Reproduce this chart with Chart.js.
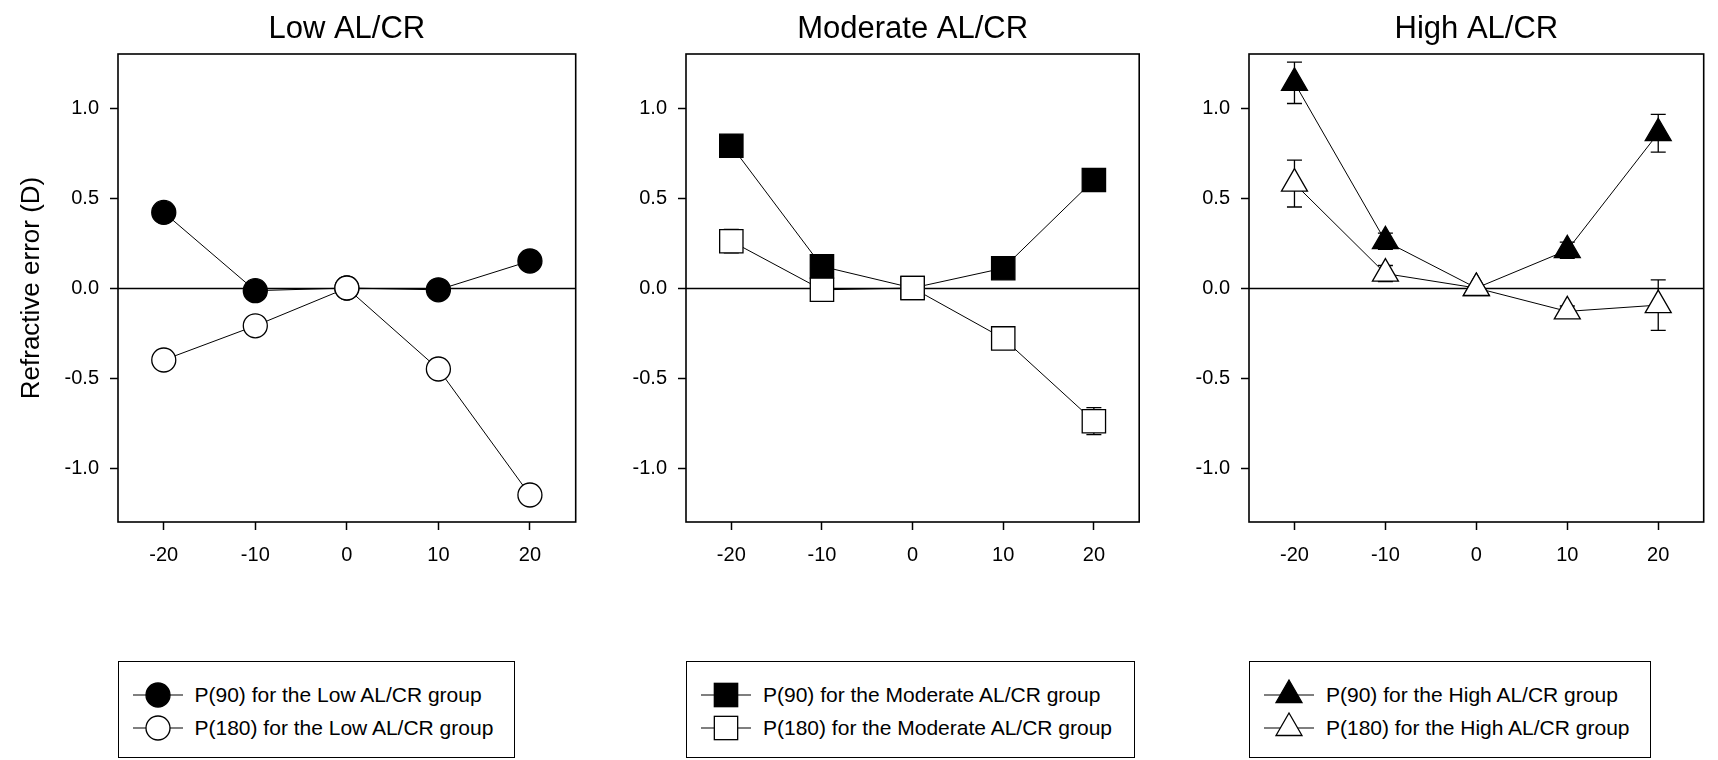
<!DOCTYPE html>
<html><head><meta charset="utf-8">
<script src="https://cdn.jsdelivr.net/npm/chart.js@4.4.1/dist/chart.umd.min.js"></script>
<style>
html,body{margin:0;padding:0;background:#fff;overflow:hidden;width:1718px;height:760px;}
.panel{position:absolute;top:0;}
.legend{position:absolute;top:661px;height:97px;border:1.5px solid #000;box-sizing:border-box;font-family:Arial,"Liberation Sans",sans-serif;font-size:21px;color:#000;background:#fff;}
.row{position:absolute;left:0;height:26px;line-height:26px;white-space:nowrap;}
.row svg{position:absolute;left:14px;top:-4px;overflow:visible;}
.row span{position:absolute;left:76px;top:0;}
</style></head><body>
<script>
// ---------- data ----------
const xValues = [-20, -10, 0, 10, 20];
const xTickValues = [-20, -10, 0, 10, 20];
const yTickValues = [-1.0, -0.5, 0.0, 0.5, 1.0];
const panelTitles = ['Low AL/CR', 'Moderate AL/CR', 'High AL/CR'];
const groupNames = ['Low', 'Moderate', 'High'];
const yAxisTitle = 'Refractive error (D)';

const lowP90     = [0.42, -0.015, 0.00, -0.01, 0.15];
const lowP90Err  = [0.03, 0.02, 0.00, 0.02, 0.03];
const lowP180    = [-0.40, -0.21, 0.00, -0.45, -1.15];
const lowP180Err = [0.03, 0.03, 0.00, 0.03, 0.04];

const modP90     = [0.79, 0.12, 0.00, 0.11, 0.60];
const modP90Err  = [0.06, 0.03, 0.00, 0.03, 0.04];
const modP180    = [0.26, -0.01, 0.00, -0.28, -0.74];
const modP180Err = [0.065, 0.03, 0.00, 0.03, 0.075];

const highP90     = [1.14, 0.26, 0.00, 0.21, 0.86];
const highP90Err  = [0.115, 0.045, 0.00, 0.045, 0.105];
const highP180    = [0.58, 0.08, 0.00, -0.13, -0.095];
const highP180Err = [0.13, 0.045, 0.00, 0.03, 0.14];

// ---------- layout / style ----------
const FONT = 'Arial, "Liberation Sans", sans-serif';
Chart.defaults.font.family = FONT;
Chart.defaults.color = '#000';
const frameLefts = [118, 686, 1249];
const frameWidth = 469;
const yAxisWidth = 118;
const frameTop = 54;
const canvasH = 600;
const xAxisH = 78;
const titleY = 29;
const legendLefts = [117.5, 686, 1249];
const legendWidths = [397, 449, 402];
const legendRowTops = [19.5, 52.5];
const markerStyles = ['circle', 'rect', 'triangle'];
const markerRadii = [12, 16.5, 15];

const panelData = [
  {p90: lowP90, p90e: lowP90Err, p180: lowP180, p180e: lowP180Err},
  {p90: modP90, p90e: modP90Err, p180: modP180, p180e: modP180Err},
  {p90: highP90, p90e: highP90Err, p180: highP180, p180e: highP180Err}
];

const extrasPlugin = {
  id: 'extras',
  beforeDatasetsDraw(chart) {
    const {ctx, chartArea: a, scales: {x, y}} = chart;
    ctx.save();
    ctx.strokeStyle = '#000';
    ctx.lineWidth = 1.5;
    const y0 = Math.round(y.getPixelForValue(0)) + 0.5;
    ctx.beginPath(); ctx.moveTo(a.left, y0); ctx.lineTo(a.right, y0); ctx.stroke();
    ctx.lineWidth = 1.3;
    chart.data.datasets.forEach((ds) => {
      if (!ds.errors) return;
      ds.data.forEach((pt, i) => {
        const e = ds.errors[i];
        if (!e) return;
        const px = x.getPixelForValue(pt.x);
        const yt = y.getPixelForValue(pt.y + e);
        const yb = y.getPixelForValue(pt.y - e);
        ctx.beginPath();
        ctx.moveTo(px, yt); ctx.lineTo(px, yb);
        ctx.moveTo(px - 7.5, yt); ctx.lineTo(px + 7.5, yt);
        ctx.moveTo(px - 7.5, yb); ctx.lineTo(px + 7.5, yb);
        ctx.stroke();
      });
    });
    ctx.restore();
  },
  afterDatasetsDraw(chart) {
    const {ctx, chartArea: a} = chart;
    ctx.save();
    ctx.strokeStyle = '#000';
    ctx.lineWidth = 1.6;
    ctx.strokeRect(a.left, a.top, a.right - a.left, a.bottom - a.top);
    const t = chart.options.plugins.panelTitle;
    ctx.fillStyle = '#000';
    ctx.font = '31px ' + FONT;
    ctx.textAlign = 'center';
    ctx.textBaseline = 'middle';
    ctx.fillText(t.text, (a.left + a.right) / 2, titleY);
    ctx.restore();
  }
};

function pts(vals) { return xValues.map((xv, i) => ({x: xv, y: vals[i]})); }

panelData.forEach((pd, p) => {
  const div = document.createElement('div');
  div.className = 'panel';
  div.style.left = (frameLefts[p] - yAxisWidth) + 'px';
  const cw = yAxisWidth + frameWidth + 2;
  div.style.width = cw + 'px';
  div.style.height = canvasH + 'px';
  const cv = document.createElement('canvas');
  cv.width = cw; cv.height = canvasH;
  cv.style.width = cw + 'px'; cv.style.height = canvasH + 'px';
  div.appendChild(cv);
  document.body.appendChild(div);

  const common = {
    pointStyle: markerStyles[p],
    pointRadius: markerRadii[p],
    pointHoverRadius: markerRadii[p],
    pointBorderColor: '#000',
    pointBorderWidth: 1.3,
    borderColor: '#000',
    borderWidth: 1,
    showLine: true,
    tension: 0,
    clip: false
  };

  new Chart(cv, {
    type: 'scatter',
    data: {
      datasets: [
        Object.assign({}, common, {label: 'P(180) for the ' + groupNames[p] + ' AL/CR group', data: pts(pd.p180), errors: pd.p180e, pointBackgroundColor: '#fff', order: 0}),
        Object.assign({}, common, {label: 'P(90) for the ' + groupNames[p] + ' AL/CR group', data: pts(pd.p90), errors: pd.p90e, pointBackgroundColor: '#000', order: 1})
      ]
    },
    options: {
      responsive: false,
      animation: false,
      devicePixelRatio: 1,
      layout: {padding: {left: 0, right: 2, top: frameTop, bottom: 0}},
      plugins: {
        legend: {display: false},
        tooltip: {enabled: false},
        title: {display: false},
        panelTitle: {text: panelTitles[p]}
      },
      scales: {
        x: {
          type: 'linear', min: -25, max: 25,
          afterBuildTicks: s => { s.ticks = xTickValues.map(v => ({value: v})); },
          afterFit: s => { s.height = xAxisH; },
          grid: {drawOnChartArea: false, drawTicks: true, tickLength: 8, tickWidth: 1.5, tickColor: '#000'},
          border: {display: false},
          ticks: {color: '#000', font: {size: 20}, padding: 13, maxRotation: 0, callback: v => String(v)}
        },
        y: {
          type: 'linear', min: -1.3, max: 1.3,
          afterBuildTicks: s => { s.ticks = yTickValues.map(v => ({value: v})); },
          afterFit: s => { s.width = yAxisWidth; },
          grid: {drawOnChartArea: false, drawTicks: true, tickLength: 8, tickWidth: 1.5, tickColor: '#000'},
          border: {display: false},
          ticks: {color: '#000', font: {size: 20}, padding: 11, callback: v => Number(v).toFixed(1)},
          title: {display: p === 0, text: yAxisTitle, color: '#000', font: {size: 26, weight: 'normal'}, padding: {top: 16, bottom: 0}}
        }
      }
    },
    plugins: [extrasPlugin]
  });

  // legend box (HTML)
  const lg = document.createElement('div');
  lg.className = 'legend';
  lg.style.left = legendLefts[p] + 'px';
  lg.style.width = legendWidths[p] + 'px';
  const rows = [
    {text: 'P(90) for the ' + groupNames[p] + ' AL/CR group', fill: '#000'},
    {text: 'P(180) for the ' + groupNames[p] + ' AL/CR group', fill: '#fff'}
  ];
  rows.forEach((r, ri) => {
    const row = document.createElement('div');
    row.className = 'row';
    row.style.top = legendRowTops[ri] + 'px';
    row.style.width = '100%';
    let shape = '';
    const cx = 25, cy = 17, rr = markerRadii[p];
    if (markerStyles[p] === 'circle') {
      shape = `<circle cx="${cx}" cy="${cy}" r="${rr}" fill="${r.fill}" stroke="#000" stroke-width="1.3"/>`;
    } else if (markerStyles[p] === 'rect') {
      const h = rr * Math.SQRT1_2;
      shape = `<rect x="${cx - h}" y="${cy - h}" width="${2 * h}" height="${2 * h}" fill="${r.fill}" stroke="#000" stroke-width="1.3"/>`;
    } else {
      const s = Math.sin(Math.PI / 3) * rr;
      shape = `<polygon points="${cx},${cy - rr} ${cx + s},${cy + rr / 2} ${cx - s},${cy + rr / 2}" fill="${r.fill}" stroke="#000" stroke-width="1.3"/>`;
    }
    row.innerHTML = `<svg width="50" height="34" viewBox="0 0 50 34"><line x1="0" y1="${cy}" x2="50" y2="${cy}" stroke="#000" stroke-width="1.2"/>${shape}</svg><span></span>`;
    row.querySelector('span').textContent = r.text;
    lg.appendChild(row);
  });
  document.body.appendChild(lg);
});
</script>
</body></html>
